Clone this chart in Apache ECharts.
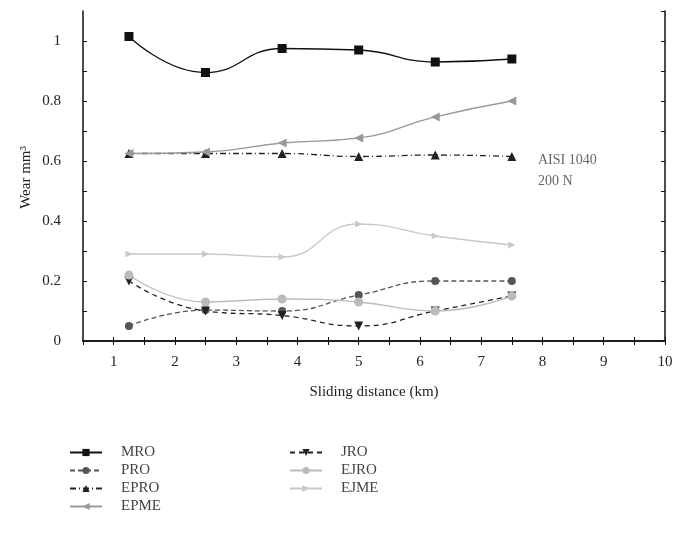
<!DOCTYPE html>
<html>
<head>
<meta charset="utf-8">
<script src="https://cdn.jsdelivr.net/npm/echarts@6/dist/echarts.min.js"></script>
<style>
  html, body { margin: 0; padding: 0; background: #fff; }
  #chart { width: 676px; height: 544px; }
</style>
</head>
<body>
<div id="chart"></div>
<script>
// Sliding distance (km) at which wear was measured
const distances = [1.25, 2.5, 3.75, 5, 6.25, 7.5];

// Wear volume (mm^3) per specimen
const mro  = [1.015, 0.895, 0.975, 0.97, 0.93, 0.94];
const pro  = [0.05, 0.103, 0.10, 0.153, 0.20, 0.20];
const epro = [0.625, 0.625, 0.625, 0.615, 0.62, 0.615];
const epme = [0.625, 0.63, 0.66, 0.677, 0.747, 0.80];
const jro  = [0.20, 0.10, 0.085, 0.05, 0.10, 0.15];
const ejro = [0.22, 0.13, 0.14, 0.13, 0.10, 0.15];
const ejme = [0.29, 0.29, 0.28, 0.39, 0.35, 0.32];

const leftLegend = ['MRO', 'PRO', 'EPRO', 'EPME'];
const rightLegend = ['JRO', 'EJRO', 'EJME'];

const FONT = '"Liberation Serif", "DejaVu Serif", serif';

function pairs(vals) {
  return distances.map((d, i) => [d, vals[i]]);
}

function line(name, vals, color, lineType, symbol, size, rotate) {
  return {
    name: name,
    type: 'line',
    data: pairs(vals),
    smooth: 0.5,
    symbol: symbol,
    symbolSize: size,
    symbolRotate: rotate || 0,
    lineStyle: { color: color, width: 1.3, type: lineType },
    itemStyle: { color: color },
    z: 3
  };
}

const chart = echarts.init(document.getElementById('chart'));

const axisLine = { show: true, lineStyle: { color: '#111', width: 1.5 } };
const tickStyle = { show: true, inside: true, length: 4, lineStyle: { color: '#111' } };

chart.setOption({
  animation: false,
  backgroundColor: '#fff',
  grid: { left: 83, right: 11, top: 11, bottom: 203 },
  xAxis: [
    {
      type: 'value', min: 0.5, max: 10, interval: 0.5,
      axisLine: axisLine, axisTick: tickStyle, splitLine: { show: false },
      axisLabel: {
        color: '#222', fontFamily: FONT, fontSize: 15, margin: 14,
        showMinLabel: false,
        formatter: v => (Math.abs(v - Math.round(v)) < 1e-6 ? String(Math.round(v)) : '')
      },
      name: 'Sliding distance (km)', nameLocation: 'middle', nameGap: 44,
      nameTextStyle: { color: '#222', fontFamily: FONT, fontSize: 15 }
    },
    {
      type: 'value', position: 'top', min: 0.5, max: 10, interval: 0.5,
      axisLine: axisLine, axisTick: tickStyle, axisLabel: { show: false },
      splitLine: { show: false }
    }
  ],
  yAxis: [
    {
      type: 'value', min: 0, max: 1.1, interval: 0.1,
      axisLine: axisLine, axisTick: tickStyle, splitLine: { show: false },
      axisLabel: {
        color: '#222', fontFamily: FONT, fontSize: 15, margin: 22,
        showMaxLabel: false,
        formatter: v => {
          const k = Math.round(v * 10);
          if (k % 2 !== 0) return '';
          return k === 0 ? '0' : (k === 10 ? '1' : (k / 10).toFixed(1));
        }
      }
    },
    {
      type: 'value', position: 'right', min: 0, max: 1.1, interval: 0.1,
      axisLine: axisLine, axisTick: tickStyle, axisLabel: { show: false },
      splitLine: { show: false }
    }
  ],
  legend: [
    {
      data: leftLegend, orient: 'vertical', left: 64, top: 440,
      itemWidth: 32, itemHeight: 9, itemGap: 3,
      textStyle: { color: '#444', fontFamily: FONT, fontSize: 15, padding: [0, 0, 0, 14] }
    },
    {
      data: rightLegend, orient: 'vertical', left: 284, top: 440,
      itemWidth: 32, itemHeight: 9, itemGap: 3,
      textStyle: { color: '#444', fontFamily: FONT, fontSize: 15, padding: [0, 0, 0, 14] }
    }
  ],
  graphic: [
    {
      type: 'text', left: 19, top: 146, rotation: Math.PI / 2,
      style: { text: 'Wear mm³', font: '15px ' + FONT, fill: '#222' }
    },
    {
      type: 'text', left: 538, top: 150,
      style: { text: 'AISI 1040\n200 N', font: '14px ' + FONT, fill: '#666', lineHeight: 21 }
    }
  ],
  series: [
    line('MRO', mro, '#111', 'solid', 'rect', 9),
    line('PRO', pro, '#555', [5, 3], 'circle', 8),
    line('EPRO', epro, '#222', [6, 3, 1, 3], 'triangle', 9),
    line('EPME', epme, '#999', 'solid', 'triangle', 9, 90),
    line('JRO', jro, '#222', [5, 4], 'triangle', 9, 180),
    line('EJRO', ejro, '#bbb', 'solid', 'circle', 9),
    line('EJME', ejme, '#c8c8c8', 'solid', 'triangle', 7, -90)
  ]
});
</script>
</body>
</html>
